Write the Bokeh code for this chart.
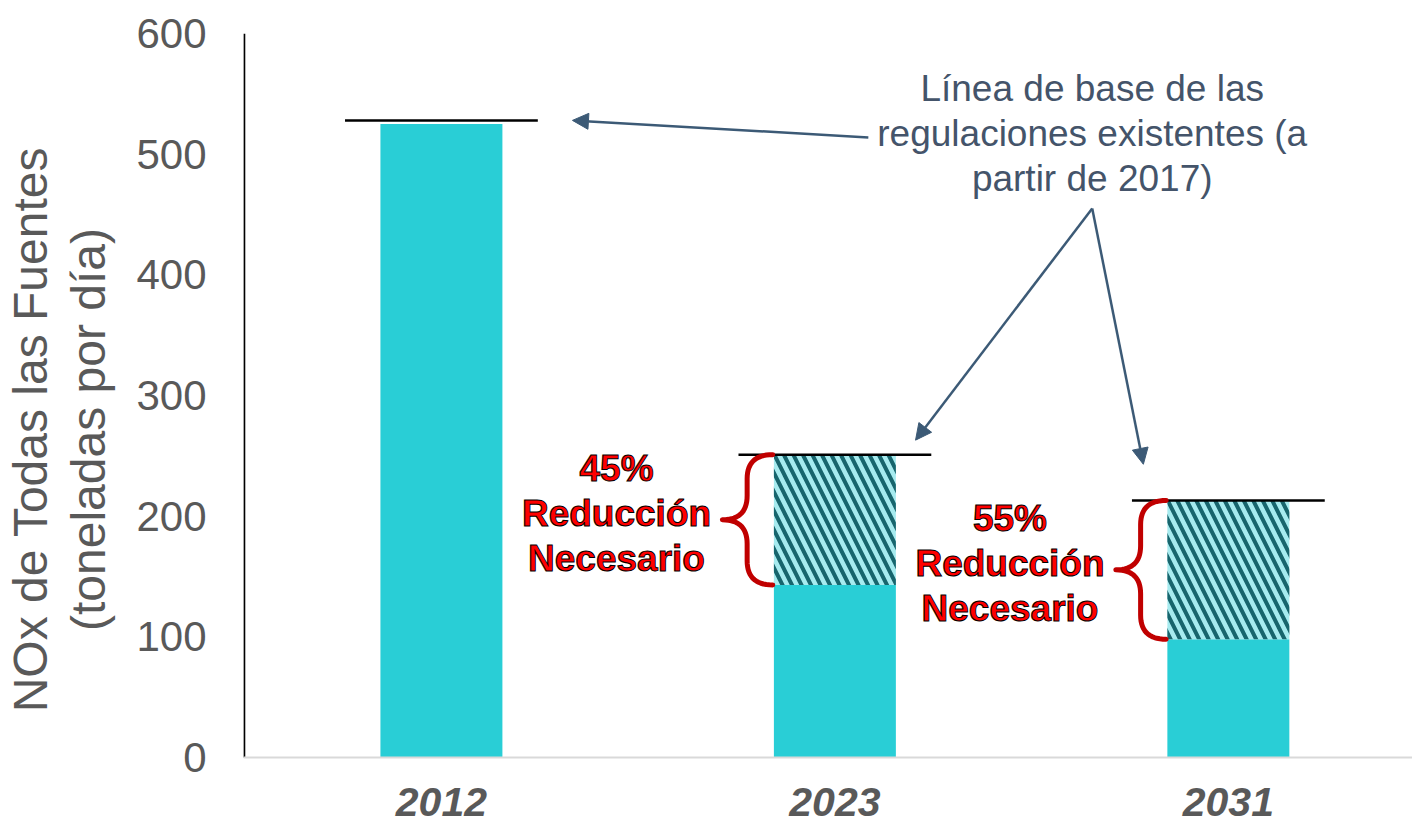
import numpy as np
from bokeh.plotting import figure
from bokeh.models import Range1d, FixedTicker, Arrow, NormalHead, Span
from bokeh.core.properties import value
from bokeh.embed import file_html
from bokeh.resources import INLINE

# ---- data ----
years = ["2012", "2023", "2031"]
remaining = [525, 143, 98]        # emissions after required reduction (2012: actual)
baseline = [528, 251, 213]        # baseline of existing regulations
reduction_pct = [None, 45, 55]
y_ticks = [0, 100, 200, 300, 400, 500, 600]

FONT = "Liberation Sans"
GRAY = "#595959"
CYAN = "#29ced6"
x = np.arange(len(years), dtype=float)
BAR_W = 0.31

# layout: frame reaches the page bottom so the category labels can sit below y=0
H, TOP = 825, 33
PX_PER_UNIT = 724 / 600.0
Y_MIN = -(H - TOP - 724) / PX_PER_UNIT
X_MIN, X_MAX = -0.503, 2.468

p = figure(width=1412, height=H,
           x_range=Range1d(X_MIN, X_MAX), y_range=Range1d(Y_MIN, 600),
           output_backend="svg", toolbar_location=None,
           min_border_left=243, min_border_right=0,
           min_border_top=TOP, min_border_bottom=0,
           outline_line_color=None, background_fill_color="white",
           border_fill_color="white")
p.xgrid.visible = False
p.ygrid.visible = False
p.xaxis.visible = False

# axis lines
p.add_layout(Span(location=0, dimension="width", line_color="#d9d9d9", line_width=2))
p.segment(x0=[X_MIN + 0.002], x1=[X_MIN + 0.002], y0=[0], y1=[600],
          line_color="black", line_width=2)

# solid bars
p.vbar(x=x, top=remaining, width=BAR_W, fill_color=CYAN, line_color=None)

# hatched reduction parts
sel = [i for i in range(len(years)) if reduction_pct[i] is not None]
p.vbar(x=[x[i] for i in sel], bottom=[remaining[i] for i in sel], top=[baseline[i] for i in sel],
       width=BAR_W, fill_color="#a6ebef", line_color=None,
       hatch_pattern="left_diagonal_line", hatch_color="#17656d",
       hatch_scale=19, hatch_weight=4)

# baseline lines
p.segment(x0=x - 0.245, x1=x + 0.245, y0=baseline, y1=baseline,
          line_color="black", line_width=2.5)

# braces
def quad(p0, c, p1, n=16):
    t = np.linspace(0, 1, n)[:, None]
    p0, c, p1 = map(np.array, (p0, c, p1))
    return (1 - t) ** 2 * p0 + 2 * (1 - t) * t * c + t ** 2 * p1

def brace(xc, y_top, y_bot):
    xr = xc - BAR_W / 2 - 0.003
    xm = xr - 0.065
    xl = xr - 0.128
    r = 20.0
    yc = (y_top + y_bot) / 2
    pts = np.vstack([
        quad((xr, y_top), (xm, y_top), (xm, y_top - r)),
        quad((xm, yc + r), (xm, yc), (xl, yc)),
        quad((xl, yc), (xm, yc), (xm, yc - r)),
        quad((xm, y_bot + r), (xm, y_bot), (xr, y_bot)),
    ])
    return pts[:, 0], pts[:, 1]

for i in sel:
    bx, by = brace(x[i], baseline[i], remaining[i])
    p.line(bx, by, line_color="#c00000", line_width=5, line_cap="round", line_join="round")
    p.text(x=[x[i] - 0.555], y=[(baseline[i] + remaining[i]) / 2 + 5],
           text=[f"{reduction_pct[i]}%\nReducción\nNecesario"],
           text_font=value(FONT), text_font_style="bold", text_font_size="37px",
           text_color="#ff0000", text_outline_color="black",
           text_align="center", text_baseline="middle", text_line_height=1.1)

# annotation text + arrows
ANN = "#44546a"
ARR = "#3c5a76"
p.text(x=[1.654], y=[517], text=["Línea de base de las\nregulaciones existentes (a\npartir de 2017)"],
       text_font=value(FONT), text_font_size="37px", text_color=ANN,
       text_align="center", text_baseline="middle", text_line_height=1.1)

def arrow(x0, y0, x1, y1):
    p.add_layout(Arrow(x_start=x0, y_start=y0, x_end=x1, y_end=y1,
                       line_color=ARR, line_width=2.5,
                       end=NormalHead(size=16, fill_color=ARR, line_color=ARR)))

arrow(1.085, 513.8, 0.333, baseline[0])
arrow(1.654, 455, 1.205, baseline[1] + 12)
arrow(1.654, 455, 1.784, baseline[2] + 30)

# category labels under y=0
p.text(x=x, y=[-44 / PX_PER_UNIT] * len(years), text=years,
       text_font=value(FONT), text_font_size="41px", text_font_style="bold italic",
       text_color=GRAY, text_align="center", text_baseline="middle")

# y axis
ya = p.yaxis[0]
ya.ticker = FixedTicker(ticks=y_ticks)
ya.major_label_text_font = FONT
ya.major_label_text_font_size = "42px"
ya.major_label_text_color = GRAY
ya.major_tick_line_color = None
ya.minor_tick_line_color = None
ya.axis_line_color = None
ya.major_label_standoff = 31
ya.axis_label = "NOx de Todas las Fuentes\n(toneladas por día)"
ya.axis_label_text_font = FONT
ya.axis_label_text_font_size = "48px"
ya.axis_label_text_font_style = "normal"
ya.axis_label_text_color = GRAY
ya.axis_label_text_line_height = 1.1
ya.axis_label_standoff = 18

open("out.html", "w").write(file_html(p, INLINE))
